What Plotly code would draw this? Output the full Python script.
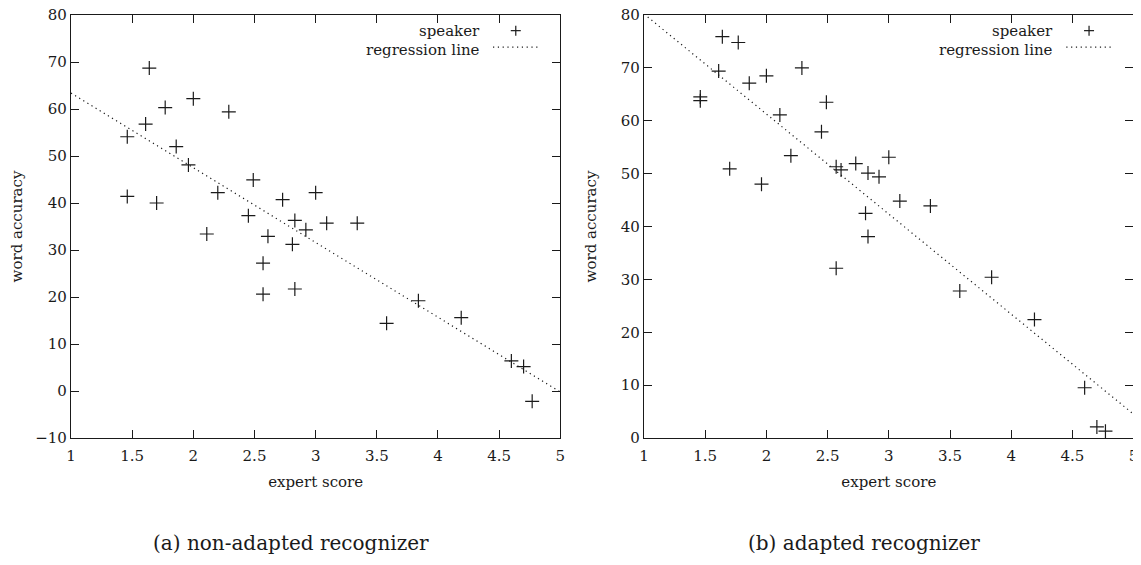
import plotly.graph_objects as go
from plotly.subplots import make_subplots

# expert scores of the speakers (shared by both recognizers)
expert_score = [1.46, 1.46, 1.61, 1.64, 1.70, 1.77, 1.86, 1.96, 2.00, 2.11, 2.20,
                2.29, 2.45, 2.49, 2.57, 2.57, 2.61, 2.73, 2.81, 2.83, 2.83, 2.92,
                3.00, 3.09, 3.34, 3.58, 3.84, 4.19, 4.60, 4.70, 4.77]
# word accuracy, non-adapted recognizer
acc_nonadapted = [54.1, 41.4, 56.8, 68.7, 40.0, 60.3, 52.0, 48.1, 62.2, 33.4, 42.2,
                  59.4, 37.3, 44.9, 27.2, 20.6, 32.9, 40.7, 31.2, 36.3, 21.7, 34.3,
                  42.2, 35.7, 35.7, 14.4, 19.2, 15.6, 6.4, 5.2, -2.2]
# word accuracy, adapted recognizer
acc_adapted = [64.5, 63.8, 69.4, 75.9, 50.9, 74.8, 67.1, 48.0, 68.5, 61.1, 53.4,
               70.0, 57.9, 63.5, 51.3, 32.1, 50.7, 51.9, 42.5, 50.1, 38.1, 49.4,
               53.1, 44.8, 43.9, 27.8, 30.4, 22.4, 9.5, 2.1, 1.3]
# regression lines: value at expert score 1 and at expert score 5
reg_x = [1, 5]
reg_nonadapted = [63.4, -0.2]
reg_adapted = [80.2, 4.5]

x_ticks = [1, 1.5, 2, 2.5, 3, 3.5, 4, 4.5, 5]
x_ticklabels = ["1", "1.5", "2", "2.5", "3", "3.5", "4", "4.5", "5"]
y_range_a = [-10, 80]
y_range_b = [0, 80]
captions = ["(a) non-adapted recognizer", "(b) adapted recognizer"]
legend_labels = ["speaker", "regression line"]

# the page body has an 8px margin; figure coordinates are page coordinates - 8
OFF = 8
W, H = 1141 - OFF, 565 - OFF
FONT = "DejaVu Serif"
INK = "#1a1a1a"

def px_x(p):
    return (p - OFF) / W

def px_y(p):
    return 1 - (p - OFF) / H

fig = make_subplots(rows=1, cols=2)

for col, acc, reg in [(1, acc_nonadapted, reg_nonadapted), (2, acc_adapted, reg_adapted)]:
    fig.add_trace(go.Scatter(x=reg_x, y=reg, mode="lines",
                             line=dict(color=INK, width=1.2, dash="1.2px,3.6px"),
                             showlegend=False, hoverinfo="skip"), row=1, col=col)
    fig.add_trace(go.Scatter(x=expert_score, y=acc, mode="markers",
                             marker=dict(symbol="cross-thin", size=10,
                                         line=dict(color=INK, width=1.2)),
                             showlegend=False), row=1, col=col)

xdoms = [[px_x(71), px_x(560.3)], [px_x(644), px_x(1133.6)]]
ydom = [px_y(438), px_y(15)]

axis_common = dict(showline=True, linecolor=INK, linewidth=1.4, mirror="ticks",
                   ticks="inside", ticklen=8, tickwidth=1, tickcolor=INK,
                   showgrid=False, zeroline=False, automargin=False,
                   ticklabeloverflow="allow",
                   tickfont=dict(family=FONT, size=15, color=INK))

for i, yr in enumerate([y_range_a, y_range_b]):
    n = "" if i == 0 else "2"
    fig.layout["xaxis" + n].update(domain=xdoms[i], range=[1, 5],
                                   tickvals=x_ticks, ticktext=x_ticklabels,
                                   ticklabelstandoff=4,
                                   title=dict(text="expert score", standoff=12,
                                              font=dict(family=FONT, size=15, color=INK)),
                                   **axis_common)
    fig.layout["yaxis" + n].update(domain=ydom, range=yr, dtick=10,
                                   title=dict(text="word accuracy", standoff=[14, 20][i],
                                              font=dict(family=FONT, size=15, color=INK)),
                                   **axis_common)

shapes = []
annotations = []
for i in range(2):
    n = "" if i == 0 else "2"
    xr, yr = "x" + n + " domain", "y" + n + " domain"
    annotations.append(dict(xref=xr, yref=yr, x=0.84, y=0.962, text=legend_labels[0],
                            showarrow=False, xanchor="right", yanchor="middle",
                            font=dict(family=FONT, size=15, color=INK)))
    annotations.append(dict(xref=xr, yref=yr, x=0.84, y=0.917, text=legend_labels[1],
                            showarrow=False, xanchor="right", yanchor="middle",
                            font=dict(family=FONT, size=15, color=INK)))
    cx, cy, hx, hy = 0.909, 0.963, 5 / 489.6, 5 / 423
    shapes.append(dict(type="line", xref=xr, yref=yr, x0=cx - hx, x1=cx + hx, y0=cy, y1=cy,
                       line=dict(color=INK, width=1.2)))
    shapes.append(dict(type="line", xref=xr, yref=yr, x0=cx, x1=cx, y0=cy - hy, y1=cy + hy,
                       line=dict(color=INK, width=1.2)))
    shapes.append(dict(type="line", xref=xr, yref=yr, x0=0.8625, x1=0.955, y0=0.924, y1=0.924,
                       line=dict(color=INK, width=1.2, dash="1.2px,3.6px")))
    annotations.append(dict(xref="paper", yref="paper", x=px_x([291, 864][i]), y=px_y(543),
                            text=captions[i], showarrow=False, xanchor="center", yanchor="middle",
                            font=dict(family=FONT, size=20, color=INK)))

fig.update_layout(width=W, height=H, margin=dict(l=0, r=0, t=0, b=0),
                  paper_bgcolor="white", plot_bgcolor="white",
                  shapes=shapes, annotations=annotations, showlegend=False,
                  font=dict(family=FONT, color=INK))

fig.write_html("out.html")
